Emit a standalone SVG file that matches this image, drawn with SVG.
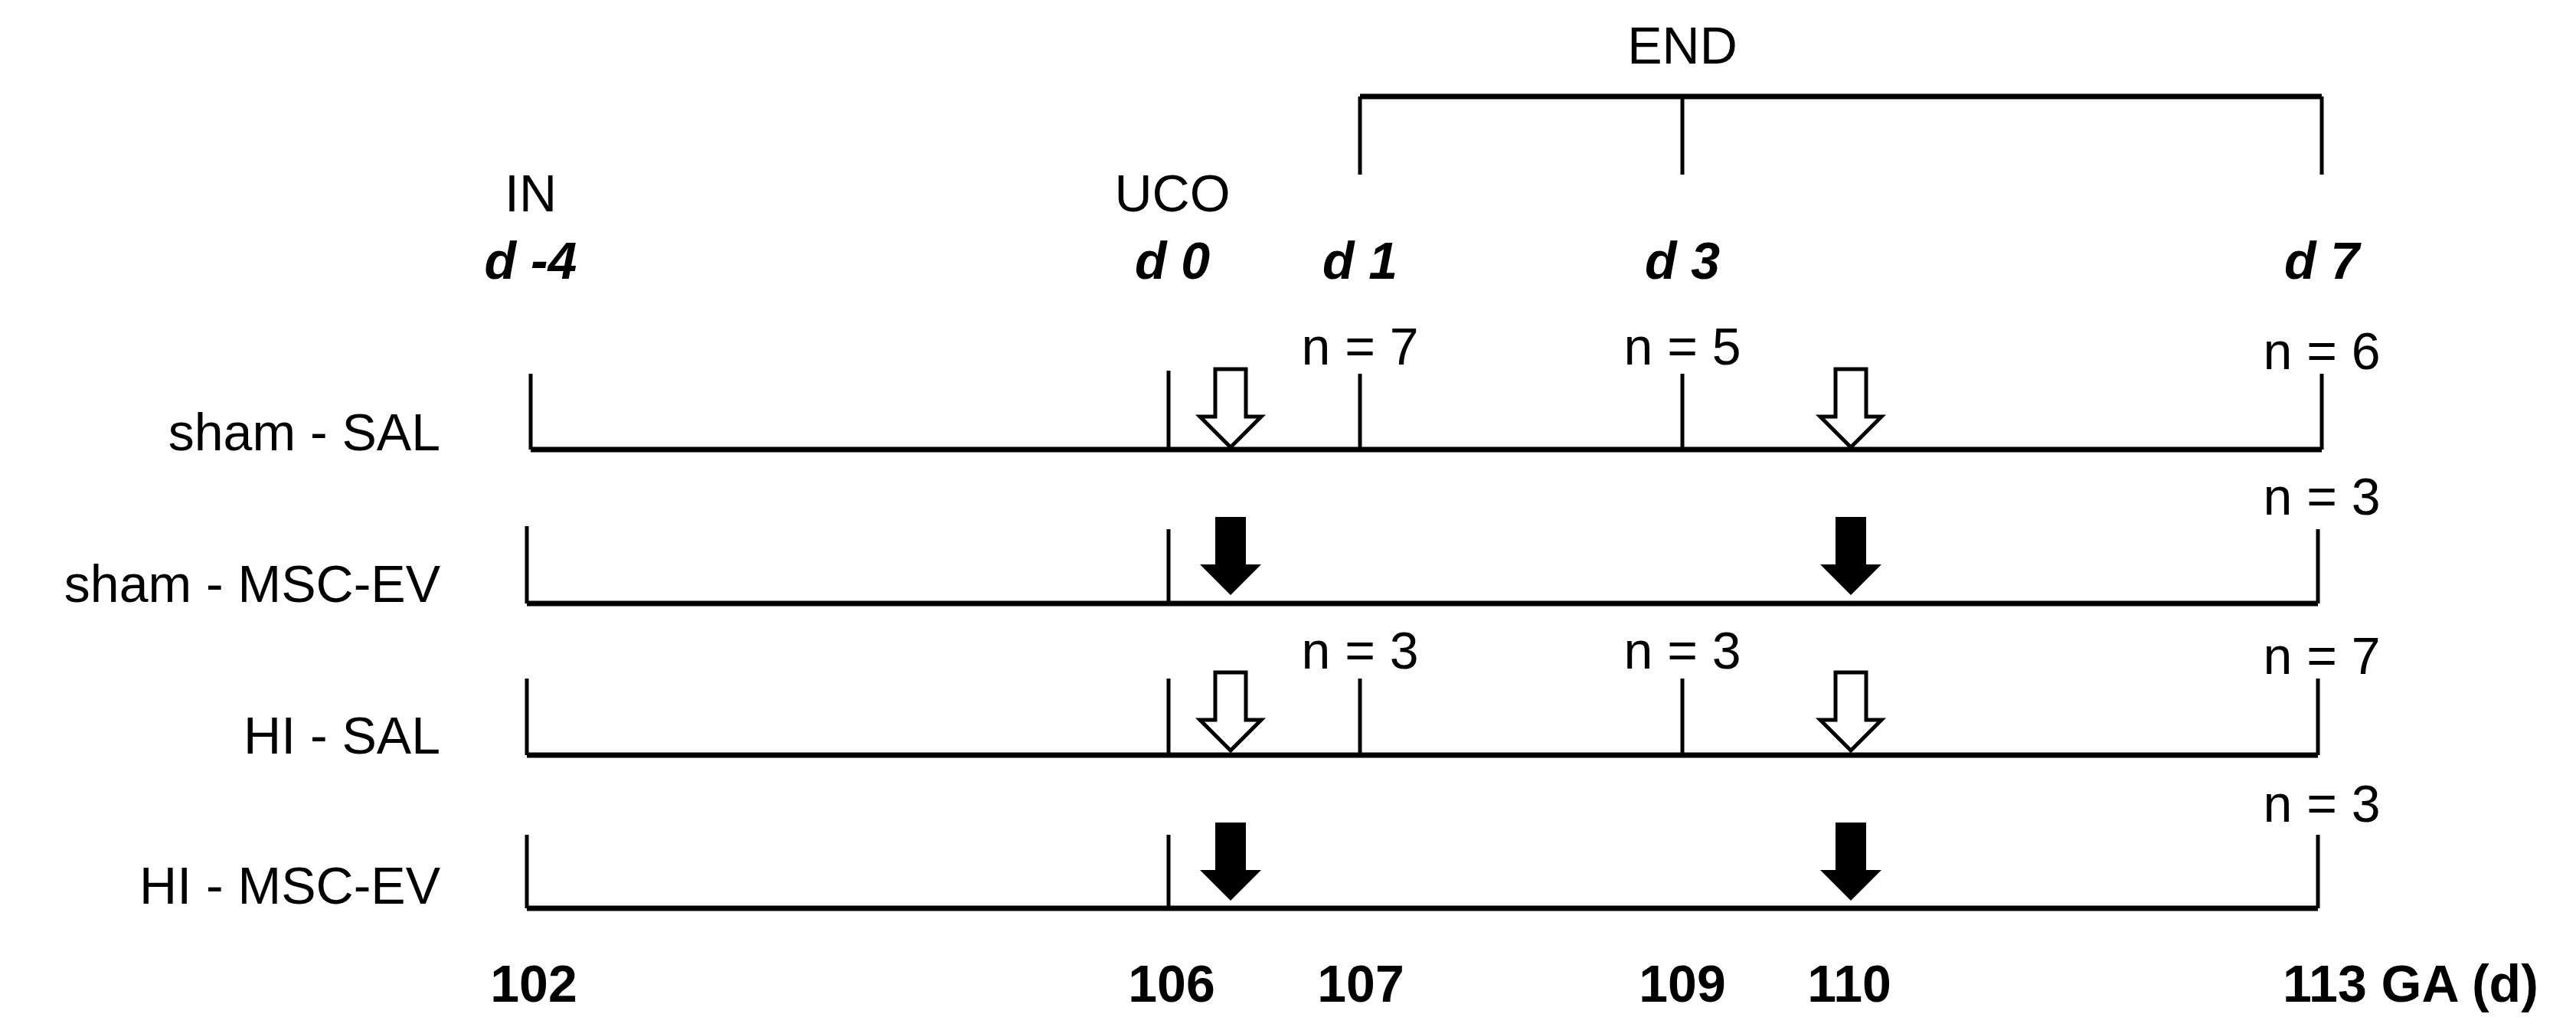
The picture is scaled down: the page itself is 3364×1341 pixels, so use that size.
<svg xmlns="http://www.w3.org/2000/svg" width="3364" height="1341" viewBox="0 0 3364 1341">
<style>
text{font-family:"Liberation Sans",Arial,sans-serif;font-size:68px;fill:#000}
.b{font-weight:bold}
.bi{font-weight:bold;font-style:italic}
.m{text-anchor:middle}
.e{text-anchor:end}
.ln{stroke:#000;stroke-width:5;fill:none}
.bl{stroke:#000;stroke-width:7;fill:none}
.oa{fill:#fff;stroke:#000;stroke-width:5}
.fa{fill:#000}
</style>
<defs>
<path id="arr" d="M-20,0 H20 V62 H40 L0,102 L-40,62 H-20 Z"/>
</defs>
<g id="header">
<text class="m" x="2197" y="83">END</text>
<path class="bl" d="M1776,126 H3032"/>
<path class="ln" d="M1776,126 V228 M2197,126 V228 M3032,126 V228"/>
<text class="m" x="693" y="276">IN</text>
<text class="m bi" x="693" y="364">d -4</text>
<text class="m" x="1531" y="276">UCO</text>
<text class="m bi" x="1531" y="364">d 0</text>
<text class="m bi" x="1776" y="364">d 1</text>
<text class="m bi" x="2197" y="364">d 3</text>
<text class="m bi" x="3032" y="364">d 7</text>
</g>
<g id="row1">
<text class="e" x="575" y="588">sham - SAL</text>
<path class="bl" d="M693,587 H3032"/>
<path class="ln" d="M693,587 V488 M1526,587 V484 M1776,587 V488 M2197,587 V488 M3032,587 V488"/>
<use href="#arr" class="oa" x="1607" y="482"/>
<use href="#arr" class="oa" x="2417" y="482"/>
<text class="m" x="1776" y="476">n = 7</text>
<text class="m" x="2197" y="476">n = 5</text>
<text class="m" x="3032" y="482">n = 6</text>
</g>
<g id="row2">
<text class="e" x="575" y="786">sham - MSC-EV</text>
<path class="bl" d="M688,788 H3027"/>
<path class="ln" d="M688,788 V687 M1526,788 V691 M3027,788 V691"/>
<use href="#arr" class="fa" x="1607" y="675"/>
<use href="#arr" class="fa" x="2417" y="675"/>
<text class="m" x="3032" y="672">n = 3</text>
</g>
<g id="row3">
<text class="e" x="575" y="984">HI - SAL</text>
<path class="bl" d="M688,986 H3027"/>
<path class="ln" d="M688,986 V886 M1526,986 V886 M1776,986 V886 M2197,986 V886 M3027,986 V886"/>
<use href="#arr" class="oa" x="1607" y="878"/>
<use href="#arr" class="oa" x="2417" y="878"/>
<text class="m" x="1776" y="873">n = 3</text>
<text class="m" x="2197" y="873">n = 3</text>
<text class="m" x="3032" y="880">n = 7</text>
</g>
<g id="row4">
<text class="e" x="575" y="1180">HI - MSC-EV</text>
<path class="bl" d="M688,1186 H3027"/>
<path class="ln" d="M688,1186 V1090 M1526,1186 V1090 M3027,1186 V1090"/>
<use href="#arr" class="fa" x="1607" y="1074"/>
<use href="#arr" class="fa" x="2417" y="1074"/>
<text class="m" x="3032" y="1073">n = 3</text>
</g>
<g id="axis">
<text class="m b" x="697" y="1308">102</text>
<text class="m b" x="1530" y="1308">106</text>
<text class="m b" x="1777" y="1308">107</text>
<text class="m b" x="2197" y="1308">109</text>
<text class="m b" x="2415" y="1308">110</text>
<text class="b" x="2981" y="1308">113 GA (d)</text>
</g>
</svg>
